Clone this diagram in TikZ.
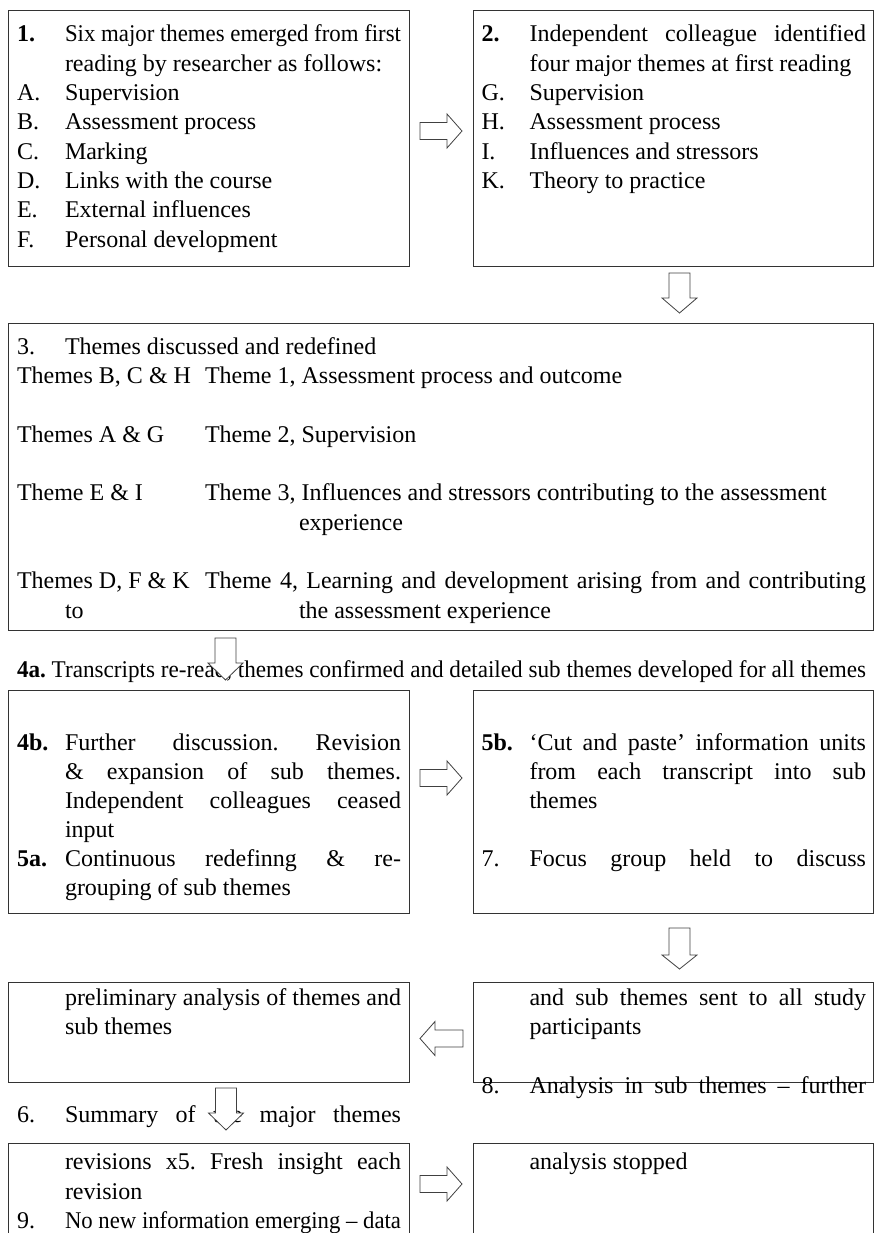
\documentclass[tikz,border=0pt]{standalone}
\usepackage{fontspec}
\setmainfont{Liberation Serif}
\usepackage{graphicx}
\frenchspacing
\newlength\jlen
\newcommand\jline[2]{\settowidth\jlen{#2}\ifdim\jlen>#1\relax\resizebox{#1}{\height}{#2}\else\makebox[#1][s]{#2}\fi}
\newcommand\rarrow[2]{\draw[barrow] (#1,#2) ++(0,-8.5) -- ++(27,0) -- ++(0,-8.5) -- ++(15,17) -- ++(-15,17) -- ++(0,-8.5) -- ++(-27,0) -- cycle;}
\newcommand\larrow[2]{\draw[barrow] (#1,#2) -- ++(15,-17) -- ++(0,8.5) -- ++(28,0) -- ++(0,17) -- ++(-28,0) -- ++(0,8.5) -- cycle;}
\newcommand\darrow[4]{\draw[barrow] (#1,#2) ++(-10.5,0) -- ++(21,0) -- ++(0,#3) -- ++(7,0) -- ++(-17.5,#4) -- ++(-17.5,-#4) -- ++(7,0) -- cycle;}
\begin{document}
\frenchspacing
\begin{tikzpicture}[x=1pt,y=-1pt,
  box/.style={draw=black!80, line width=1pt, anchor=north west, inner sep=0pt, outer sep=0pt},
  txt/.style={anchor=base west, inner sep=0pt, outer sep=0pt, font=\fontsize{24pt}{29pt}\selectfont\frenchspacing},
  barrow/.style={draw=black!75, line width=0.8pt, fill=white, line join=miter}]
\useasboundingbox (0,0) rectangle (874,1233);
\clip (0,0) rectangle (874,1233);
% boxes
\node[box, minimum width=401pt, minimum height=255.5pt] (box1) at (8.5,10.5) {};
\node[box, minimum width=399.5pt, minimum height=255.5pt] (box2) at (473.5,10.5) {};
\node[box, minimum width=864.5pt, minimum height=307pt] (box3) at (8.5,323) {};
\node[box, minimum width=401pt, minimum height=222.5pt] (box4) at (8.5,690.5) {};
\node[box, minimum width=399.5pt, minimum height=222.5pt] (box5) at (473.5,690.5) {};
\node[box, minimum width=401pt, minimum height=100pt] (box6) at (8.5,982) {};
\node[box, minimum width=399.5pt, minimum height=100pt] (box7) at (473.5,982) {};
\node[box, minimum width=401pt, minimum height=117pt] (box8) at (8.5,1143) {};
\node[box, minimum width=399.5pt, minimum height=117pt] (box9) at (473.5,1143) {};
% box 1
\node[txt] (n1) at (17,42) {\textbf{1.}};
\node[txt] (t1a) at (65,42) {\jline{336pt}{Six major themes emerged from first}};
\node[txt] (t1b) at (65,71.3) {reading by researcher as follows:};
\node[txt] (lA) at (17,100.6) {A.};
\node[txt] (tA) at (65,100.6) {Supervision};
\node[txt] (lB) at (17,130) {B.};
\node[txt] (tB) at (65,130) {Assessment process};
\node[txt] (lC) at (17,159.3) {C.};
\node[txt] (tC) at (65,159.3) {Marking};
\node[txt] (lD) at (17,188.6) {D.};
\node[txt] (tD) at (65,188.6) {Links with the course};
\node[txt] (lE) at (17,218) {E.};
\node[txt] (tE) at (65,218) {External influences};
\node[txt] (lF) at (17,247.3) {F.};
\node[txt] (tF) at (65,247.3) {Personal development};
% box 2
\node[txt] (n2) at (481.5,42) {\textbf{2.}};
\node[txt] (t2a) at (529.5,42) {\jline{336.5pt}{Independent colleague identified}};
\node[txt] (t2b) at (529.5,71.3) {four major themes at first reading};
\node[txt] (lG) at (481.5,100.6) {G.};
\node[txt] (tG) at (529.5,100.6) {Supervision};
\node[txt] (lH) at (481.5,130) {H.};
\node[txt] (tH) at (529.5,130) {Assessment process};
\node[txt] (lI) at (481.5,159.3) {I.};
\node[txt] (tI) at (529.5,159.3) {Influences and stressors};
\node[txt] (lK) at (481.5,188.6) {K.};
\node[txt] (tK) at (529.5,188.6) {Theory to practice};
% box 3
\node[txt] (n3) at (17,354) {3.};
\node[txt] (t3) at (65,354) {Themes discussed and redefined};
\node[txt] (g1) at (17,383.3) {Themes B, C \& H};
\node[txt] (th1) at (205,383.3) {Theme 1, Assessment process and outcome};
\node[txt] (g2) at (17,442) {Themes A \& G};
\node[txt] (th2) at (205,442) {Theme 2, Supervision};
\node[txt] (g3) at (17,500.6) {Theme E \& I};
\node[txt] (th3) at (205,500.6) {Theme 3, Influences and stressors contributing to the assessment};
\node[txt] (th3b) at (299,530) {experience};
\node[txt] (g4) at (17,588.6) {Themes D, F \& K};
\node[txt] (th4) at (205,588.6) {\jline{661pt}{Theme 4, Learning and development arising from and contributing}};
\node[txt] (g4b) at (65,618) {to};
\node[txt] (th4b) at (299,618) {the assessment experience};
% line 4a
\node[txt] (t4a) at (17,677) {\jline{849pt}{\textbf{4a.} Transcripts re-read, themes confirmed and detailed sub themes developed for all themes}};
% box 4
\node[txt] (n4b) at (17,750) {\textbf{4b.}};
\node[txt] (t4b1) at (65,750) {\jline{336pt}{Further discussion. Revision}};
\node[txt] (t4b2) at (65,779) {\jline{336pt}{\& expansion of sub themes.}};
\node[txt] (t4b3) at (65,808) {\jline{336pt}{Independent colleagues ceased}};
\node[txt] (t4b4) at (65,837) {input};
\node[txt] (n5a) at (17,866) {\textbf{5a.}};
\node[txt] (t5a1) at (65,866) {\jline{336pt}{Continuous redefinng \& re-}};
\node[txt] (t5a2) at (65,895) {grouping of sub themes};
% box 5
\node[txt] (n5b) at (481.5,750) {\textbf{5b.}};
\node[txt] (t5b1) at (529.5,750) {\jline{336.5pt}{‘Cut and paste’ information units}};
\node[txt] (t5b2) at (529.5,779) {\jline{336.5pt}{from each transcript into sub}};
\node[txt] (t5b3) at (529.5,808) {themes};
\node[txt] (n7) at (481.5,866) {7.};
\node[txt] (t7) at (529.5,866) {\jline{336.5pt}{Focus group held to discuss}};
% box 6
\node[txt] (t6a) at (65,1005) {\jline{336pt}{preliminary analysis of themes and}};
\node[txt] (t6b) at (65,1034) {sub themes};
% box 7
\node[txt] (t7a) at (529.5,1005) {\jline{336.5pt}{and sub themes sent to all study}};
\node[txt] (t7b) at (529.5,1034) {participants};
\node[txt] (n8) at (481.5,1093) {8.};
\node[txt] (t8) at (529.5,1093) {\jline{336.5pt}{Analysis in sub themes – further}};
% line 6
\node[txt] (n6) at (17,1122) {6.};
\node[txt] (t6) at (65,1122) {\jline{336pt}{Summary of the major themes}};
% box 8
\node[txt] (t8a) at (65,1169) {\jline{336pt}{revisions x5. Fresh insight each}};
\node[txt] (t8b) at (65,1199) {revision};
\node[txt] (n9) at (17,1228) {9.};
\node[txt] (t9) at (65,1228) {\jline{336pt}{No new information emerging – data}};
% box 9
\node[txt] (t9a) at (529.5,1169) {analysis stopped};
% arrows
\rarrow{420}{131}
\darrow{679.5}{273}{25}{15}
\darrow{225.5}{638}{25}{17}
\rarrow{420}{778}
\darrow{679.5}{928}{27}{14}
\larrow{420}{1038.5}
\darrow{226}{1088}{25}{17}
\rarrow{420}{1184}
\end{tikzpicture}
\end{document}
